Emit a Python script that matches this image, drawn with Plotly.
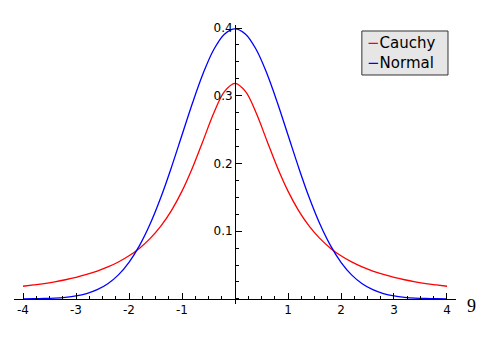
import plotly.graph_objects as go

# ---- data ----
x_vals = [-4.0, -3.8, -3.6, -3.4, -3.2, -3.0, -2.8, -2.6, -2.4, -2.2, -2.0,
          -1.8, -1.6, -1.4, -1.2, -1.0, -0.8, -0.6, -0.4, -0.2, 0.0,
          0.2, 0.4, 0.6, 0.8, 1.0, 1.2, 1.4, 1.6, 1.8, 2.0,
          2.2, 2.4, 2.6, 2.8, 3.0, 3.2, 3.4, 3.6, 3.8, 4.0]
cauchy = [0.0187, 0.0206, 0.0227, 0.0253, 0.0283, 0.0318, 0.0361, 0.0411, 0.0472, 0.0546, 0.0637,
          0.0750, 0.0894, 0.1075, 0.1305, 0.1592, 0.1941, 0.2341, 0.2744, 0.3061, 0.3183,
          0.3061, 0.2744, 0.2341, 0.1941, 0.1592, 0.1305, 0.1075, 0.0894, 0.0750, 0.0637,
          0.0546, 0.0472, 0.0411, 0.0361, 0.0318, 0.0283, 0.0253, 0.0227, 0.0206, 0.0187]
normal = [0.0001, 0.0003, 0.0006, 0.0012, 0.0024, 0.0044, 0.0079, 0.0136, 0.0224, 0.0355, 0.0540,
          0.0790, 0.1109, 0.1497, 0.1942, 0.2420, 0.2897, 0.3332, 0.3683, 0.3910, 0.3989,
          0.3910, 0.3683, 0.3332, 0.2897, 0.2420, 0.1942, 0.1497, 0.1109, 0.0790, 0.0540,
          0.0355, 0.0224, 0.0136, 0.0079, 0.0044, 0.0024, 0.0012, 0.0006, 0.0003, 0.0001]
x_ticks = [-4, -3, -2, -1, 1, 2, 3, 4]
x_tick_text = ["-4", "-3", "-2", "-1", "1", "2", "3", "4"]
y_ticks = [0.1, 0.2, 0.3, 0.4]
y_tick_text = ["0.1", "0.2", "0.3", "0.4"]
series_names = ["Cauchy", "Normal"]
series_colors = ["#ff0000", "#0000ff"]
axis_label = "9"

fig = go.Figure()
for name, ys, col in zip(series_names, [cauchy, normal], series_colors):
    fig.add_trace(go.Scatter(x=x_vals, y=ys, mode="lines", name=name,
                             line=dict(color=col, width=1.3, shape="spline", smoothing=1),
                             showlegend=False))

y_lo, y_hi = -0.0075, 0.4045
font_ticks = dict(family="DejaVu Sans", size=12, color="black")

fig.update_layout(
    width=502, height=337,
    margin=dict(l=14, r=46, t=25, b=33, autoexpand=False),
    paper_bgcolor="white", plot_bgcolor="white",
    xaxis=dict(range=[-4.17, 4.17], anchor="free", position=(0 - y_lo) / (y_hi - y_lo),
               showline=True, linecolor="black", linewidth=1, showgrid=False, zeroline=False,
               ticks="inside", ticklen=6, tickwidth=1, tickcolor="black",
               tickmode="array", tickvals=x_ticks, ticktext=x_tick_text, tickfont=font_ticks,
               minor=dict(ticks="inside", ticklen=3, tickwidth=1, tickcolor="black",
                          tickmode="linear", tick0=0, dtick=0.25, showgrid=False)),
    yaxis=dict(range=[y_lo, y_hi], anchor="free", position=0.5, side="left",
               showline=True, linecolor="black", linewidth=1, showgrid=False, zeroline=False,
               ticks="inside", ticklen=6, tickwidth=1, tickcolor="black",
               tickmode="array", tickvals=y_ticks, ticktext=y_tick_text, tickfont=font_ticks,
               minor=dict(ticks="inside", ticklen=3, tickwidth=1, tickcolor="black",
                          tickmode="linear", tick0=0, dtick=0.025, showgrid=False)),
)

# legend box (one text block, two lines)
fig.add_shape(type="rect", xref="paper", yref="paper",
              x0=0.787, x1=0.9819, y0=0.8208, y1=0.9785,
              fillcolor="#e6e6e6", line=dict(color="#333333", width=1), layer="above")
legend_text = "<br>".join(f"<span style='color:{c}'>\u2212</span>{n}"
                          for n, c in zip(series_names, series_colors))
fig.add_annotation(xref="paper", yref="paper", x=0.793, y=0.8996,
                   xanchor="left", yanchor="middle", showarrow=False, align="left",
                   text=legend_text,
                   font=dict(family="DejaVu Sans", size=15, color="black"))

# axis label
fig.add_annotation(xref="paper", yref="paper", x=1.036, y=-0.0072,
                   xanchor="center", yanchor="middle", showarrow=False,
                   text=axis_label, font=dict(family="Liberation Serif", size=18, color="black"))

fig.write_html("out.html")
